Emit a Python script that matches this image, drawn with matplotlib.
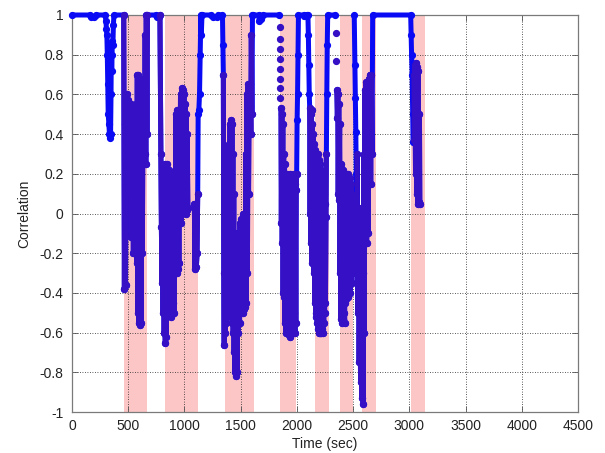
import numpy as np
import matplotlib
matplotlib.use("Agg")
import matplotlib.pyplot as plt

nan = float("nan")

# ---- shaded attack intervals (sec) ----
band_start = [460, 831, 1364, 1846, 2164, 2380, 2580, 3015]
band_end = [664, 1125, 1620, 1990, 2288, 2502, 2702, 3140]

# ---- correlation trace ----
t0 = [0, 160, 168, 200, 210, 295, 302, 306, 310, 314, 318, 322, 328, 333, 338, 343, 347, 350, 353, 356, 360, 364, 368, 373, 460]
c0 = [1.0, 1.0, 0.99, 0.99, 1.0, 1.0, 0.97, 0.93, 0.9, 0.8, 0.65, 0.5, 0.45, 0.4, 0.38, 0.4, 0.6, 0.85, 0.72, 0.8, 0.87, 0.85, 0.95, 1.0, 1.0]

t1 = [466, 471, 476, 481, 486, 491, 496, 501, 506, 511, 516, 521, 526, 531, 536, 541, 546, 551, 556, 561,
      566, 571, 576, 581, 586, 591, 596, 601, 606, 611, 616, 621, 626, 631, 636, 641, 646, 651, 656, 661,
      666, 671, 745, 752, 775, 782]
c1 = [-0.38, 0.45, -0.36, 0.58, 0.1, 0.6, 0.13, 0.57, 0.15, 0.55, 0.13, 0.55, -0.12, 0.52, -0.1, 0.5, -0.2, 0.52, -0.15, 0.45,
      -0.2, 0.55, -0.25, 0.7, -0.5, 0.7, -0.55, 0.68, -0.56, 0.68, -0.55, 0.66, -0.2, 0.65, 0.25, 0.68, 0.3, 0.9, 0.25, 1.0,
      0.4, 1.0, 1.0, 0.99, 0.99, 1.0]

t2 = [790, 795, 800, 805, 810, 815, 820, 825, 830, 835, 840, 845, 850, 855, 860, 865, 870, 875, 880, 885,
      890, 895, 900, 905, 910, 915, 920, 925, 930, 935, 940, 945, 950, 955, 960, 965, 970, 975, 980, 985,
      990, 995, 1000, 1005, 1010, 1015, 1020, 1025, 1030]
c2 = [0.3, -0.07, -0.35, 0.1, -0.5, 0.2, -0.6, 0.25, -0.65, 0.22, -0.62, 0.25, -0.5, 0.2, -0.4, 0.22, -0.5, 0.2, -0.52, 0.18,
      -0.5, 0.2, -0.45, 0.15, -0.5, 0.2, -0.3, 0.5, -0.3, 0.52, -0.28, 0.5, -0.25, 0.52, 0.0, 0.6, -0.05, 0.63, 0.05, 0.62,
      0.03, 0.6, 0.05, 0.55, 0.0, 0.5, 0.02, 0.4, 0.03]

t2b = [1060, 1088, 1094, 1100, 1106, 1112, 1118, 1122, 1128, 1134, 1140, 1146, 1150, 1156, 1240, 1250, 1290, 1300, 1338]
c2b = [nan, 0.05, -0.28, 0.0, -0.27, -0.2, 0.1, 0.5, 0.52, 0.6, 0.8, 1.0, 0.9, 1.0, 1.0, 0.99, 0.99, 1.0, 1.0]

t3 = [1342, 1346, 1350, 1354, 1358, 1362, 1366, 1370, 1374, 1378, 1382, 1386, 1390, 1394, 1398, 1402, 1406, 1410, 1414, 1418,
      1422, 1426, 1430, 1434, 1438, 1442, 1446, 1450, 1455, 1460, 1465, 1470, 1475, 1480, 1485, 1490, 1495, 1500, 1505, 1510,
      1515, 1520, 1525, 1530, 1535, 1540, 1545, 1550, 1555, 1560, 1565, 1570, 1575, 1580, 1585, 1590, 1595, 1600, 1605,
      1610, 1660, 1665, 1685, 1700, 1840]
c3 = [0.85, 0.7, -0.3, -0.66, 0.0, -0.6, 0.1, -0.55, 0.2, -0.5, 0.3, -0.5, 0.33, -0.45, 0.35, -0.5, 0.45, -0.52, 0.47, -0.5,
      0.45, -0.55, 0.3, -0.6, 0.1, -0.7, -0.1, -0.8, -0.13, -0.82, -0.12, -0.8, -0.15, -0.6, -0.1, -0.55, -0.05, -0.5, -0.03, -0.48,
      -0.05, -0.5, 0.0, -0.48, -0.05, -0.47, 0.3, -0.45, 0.6, -0.3, 0.65, 0.1, 0.64, 0.4, 0.65, 0.4, 0.9, 0.5, 1.0,
      1.0, 1.0, 0.97, 0.98, 1.0, 1.0]

t4 = [1850, 1859, 1862, 1866, 1870, 1874, 1878, 1882, 1886, 1890, 1894, 1898, 1902, 1906, 1910, 1914, 1918, 1922, 1926, 1930,
      1934, 1938, 1942, 1946, 1950, 1954, 1958, 1962, 1966, 1970, 1974, 1978, 1982, 1986, 1990, 1994, 1998, 2002, 2006, 2010,
      2014, 2060, 2065, 2085, 2090, 2098]
c4 = [nan, 0.53, -0.05, 0.5, -0.15, 0.45, -0.4, 0.3, -0.42, 0.25, -0.55, 0.2, -0.6, 0.18, -0.58, 0.2, -0.6, 0.18, -0.61, 0.15,
      -0.6, 0.2, -0.62, 0.15, -0.6, 0.18, -0.6, 0.15, -0.55, 0.2, -0.5, 0.15, -0.6, 0.15, -0.55, 0.12, 0.2, 0.47, 0.6, 0.8,
      1.0, 1.0, 0.995, 0.995, 1.0, 1.0]

t5 = [2102, 2106, 2110, 2114, 2118, 2122, 2126, 2130, 2134, 2138, 2142, 2146, 2150, 2154, 2158, 2162, 2166, 2170, 2174, 2178,
      2182, 2186, 2190, 2194, 2198, 2202, 2206, 2210, 2214, 2218, 2222, 2226, 2230, 2234, 2238, 2242, 2246, 2250, 2254, 2258,
      2262, 2266, 2270, 2274, 2340]
c5 = [0.9, 0.75, 0.6, 0.53, 0.0, 0.5, -0.15, 0.52, -0.25, 0.45, -0.22, 0.4, -0.3, 0.35, -0.45, 0.32, -0.5, 0.3, -0.52, 0.28,
      -0.55, 0.3, -0.58, 0.27, -0.6, 0.25, -0.6, 0.22, -0.6, 0.2, -0.58, 0.15, -0.6, 0.1, -0.55, 0.1, -0.5, 0.05, -0.45, -0.02,
      0.3, 0.6, 0.85, 1.0, 1.0]

t6 = [2345, 2356, 2360, 2364, 2368, 2372, 2376, 2380, 2384, 2388, 2392, 2396, 2400, 2404, 2408, 2412, 2416, 2420, 2424, 2428,
      2432, 2436, 2440, 2444, 2448, 2452, 2456, 2460, 2464, 2468, 2472, 2476, 2480, 2484, 2488, 2492, 2496, 2500, 2505]
c6 = [nan, 0.62, 0.48, 0.6, 0.1, 0.55, 0.07, 0.45, -0.3, 0.25, -0.53, 0.23, -0.55, 0.2, -0.53, 0.22, -0.5, 0.2, -0.55, 0.18,
      -0.45, 0.2, -0.43, 0.15, -0.4, 0.2, -0.42, 0.15, -0.35, 0.18, -0.4, 0.1, -0.3, 0.15, -0.35, 0.1, -0.3, 0.05, nan]

t7 = [2510, 2516, 2520, 2524, 2528, 2532, 2536, 2542, 2548, 2554, 2560, 2566, 2572, 2578, 2584, 2590, 2596, 2600, 2604, 2608,
      2614, 2620, 2626, 2632, 2638, 2644, 2650, 2656, 2662, 2668, 2674, 3012]
c7 = [1.0, 0.75, 0.58, 0.41, 0.2, -0.2, 0.3, -0.5, 0.03, -0.75, 0.0, -0.85, -0.1, -0.93, -0.3, -0.96, 0.3, -0.6, 0.62, -0.12,
      0.66, -0.15, 0.66, -0.1, 0.68, 0.15, 0.7, 0.15, 0.7, 0.3, 1.0, 1.0]

t8 = [3016, 3020, 3025, 3030, 3035, 3040, 3045, 3050, 3055, 3060, 3065, 3070, 3075, 3080, 3085, 3090, 3093]
c8 = [0.9, 0.8, 0.7, 0.5, 0.36, 0.7, 0.37, 0.75, 0.2, 0.76, 0.1, 0.74, 0.05, 0.72, 0.06, 0.5, 0.05]

# isolated samples during fast transitions
dot_t = [1846, 1847, 1848, 1849, 1850, 1851, 1852, 1853, 2348, 2351]
dot_c = [0.94, 0.88, 0.83, 0.78, 0.73, 0.68, 0.63, 0.58, 0.91, 0.77]

# time spans where the trace is drawn in the darker (dense) colour
dark_start = [458, 782, 1346, 1855, 2114, 2350, 2534, 3040]
dark_end = [690, 1120, 1600, 2000, 2262, 2505, 2670, 3095]

xticks = [0, 500, 1000, 1500, 2000, 2500, 3000, 3500, 4000, 4500]
yticks = [-1, -0.8, -0.6, -0.4, -0.2, 0, 0.2, 0.4, 0.6, 0.8, 1]
ytick_labels = ["-1", "-0.8", "-0.6", "-0.4", "-0.2", "0", "0.2", "0.4", "0.6", "0.8", "1"]

# ---------------------------------------------------------------
plt.rcParams["font.family"] = ["Liberation Sans", "DejaVu Sans"]

time = np.array(t0 + t1 + t2 + t2b + t3 + t4 + t5 + t6 + t7 + t8, dtype=float)
corr = np.array(c0 + c1 + c2 + c2b + c3 + c4 + c5 + c6 + c7 + c8, dtype=float)

in_dark = np.zeros(len(time), dtype=bool)
for a, b in zip(dark_start, dark_end):
    in_dark |= (time >= a) & (time <= b)
corr_dark = np.where(in_dark, corr, np.nan)

fig = plt.figure(figsize=(6.05, 4.53), dpi=100)
ax = fig.add_axes([72 / 605, 41 / 453, 506 / 605, 397 / 453])

for a, b in zip(band_start, band_end):
    ax.axvspan(a, b, color="#fcc6c6", lw=0, zorder=0)

ax.grid(True, color="#222222", linestyle=(0, (1, 2)), linewidth=0.6, zorder=0.5)
ax.set_axisbelow(True)

blue = "#0a0af5"
dark = "#3510c4"
ax.plot(time, corr, color=blue, lw=3.6, marker="o", ms=4.2, mec=blue, mfc=blue,
        solid_capstyle="round", solid_joinstyle="round", zorder=3, clip_on=False)
ax.plot(time, corr_dark, color=dark, lw=3.6, marker="o", ms=4.2, mec=dark, mfc=dark,
        solid_capstyle="round", solid_joinstyle="round", zorder=4, clip_on=False)
ax.plot(dot_t, dot_c, linestyle="none", marker="o", ms=4.2, color=dark, zorder=4, clip_on=False)

ax.set_xlim(0, 4500)
ax.set_ylim(-1, 1)
ax.set_xticks(xticks)
ax.set_yticks(yticks)
ax.set_yticklabels(ytick_labels)
ax.tick_params(direction="in", length=4, width=0.6, color="#555555", labelsize=10,
               labelcolor="#222222", top=True, right=True)
ax.tick_params(axis="x", pad=5)
ax.tick_params(axis="y", pad=6)
for s in ax.spines.values():
    s.set_color("#7a7a7a")
    s.set_linewidth(0.9)

ax.set_xlabel("Time (sec)", fontsize=10, color="#222222", labelpad=3)
ax.set_ylabel("Correlation", fontsize=10, color="#222222", labelpad=6)

fig.savefig("out.png", dpi=100)
